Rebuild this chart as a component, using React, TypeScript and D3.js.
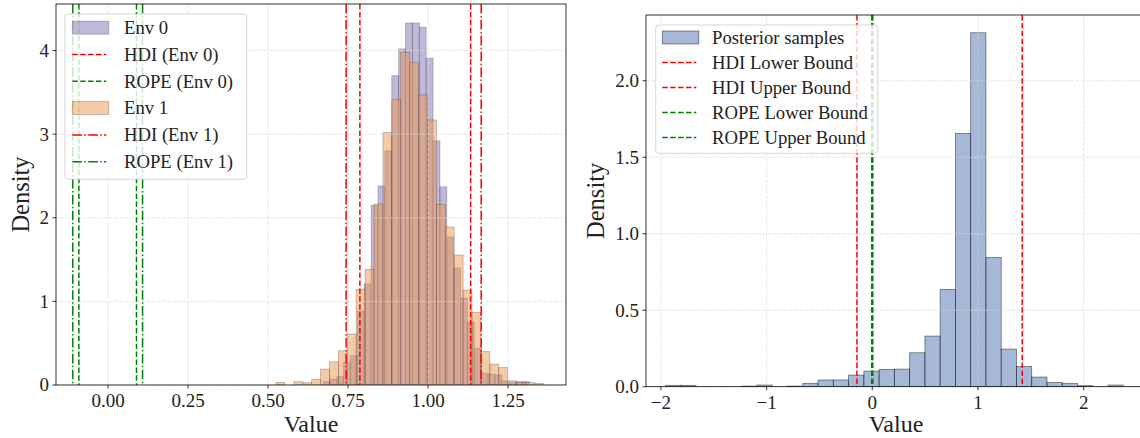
import React from 'react';
import * as d3 from 'd3';

// ---------- data: left panel (two environments) ----------
const env0Range = [0.6716, 1.3166];
const env0Density = [0.04, 0.07, 0.10, 0.27, 0.35, 0.885, 1.21, 2.15, 2.38, 2.80, 3.70, 4.02, 4.33, 4.33, 4.28, 3.91, 2.92, 2.37, 1.77, 1.40, 1.04, 0.75, 0.44, 0.14, 0.13, 0.12, 0.05, 0.03, 0.04, 0.04];
const env1Range = [0.525, 1.36];
const env1Density = [0.032, 0, 0.04, 0.028, 0.068, 0.19, 0.279, 0.41, 0.61, 1.145, 1.384, 2.165, 3.018, 3.417, 3.98, 3.86, 3.469, 3.17, 2.16, 1.89, 1.555, 1.136, 0.87, 0.40, 0.25, 0.21, 0.05, 0.03, 0.03, 0.02];
const env0HDI = [0.787, 1.133];
const env0ROPE = [-0.091, 0.089];
const env1HDI = [0.744, 1.166];
const env1ROPE = [-0.110, 0.108];
const leftXDomain = [-0.1625, 1.431];
const leftYDomain = [0, 4.557];
const leftXTicks = [0, 0.25, 0.5, 0.75, 1.0, 1.25];
const leftYTicks = [0, 1, 2, 3, 4];
const leftLegend = ['Env 0', 'HDI (Env 0)', 'ROPE (Env 0)', 'Env 1', 'HDI (Env 1)', 'ROPE (Env 1)'];

// ---------- data: right panel (posterior) ----------
const postRange = [-1.957, 2.375];
const postDensity = [0.009, 0.009, 0, 0, 0, 0.004, 0.011, 0, 0.004, 0.022, 0.044, 0.044, 0.076, 0.102, 0.113, 0.115, 0.222, 0.331, 0.636, 1.656, 2.314, 0.845, 0.246, 0.133, 0.063, 0.028, 0.022, 0.007, 0, 0.011];
const postHDI = [-0.145, 1.419];
const postROPE = [-0.005, 0.005];
const rightXDomain = [-2.141, 2.59];
const rightYDomain = [0, 2.43];
const rightXTicks = [-2, -1, 0, 1, 2];
const rightYTicks = [0, 0.5, 1.0, 1.5, 2.0];
const rightLegend = ['Posterior samples', 'HDI Lower Bound', 'HDI Upper Bound', 'ROPE Lower Bound', 'ROPE Upper Bound'];

const FONT = '"Liberation Serif", "Times New Roman", serif';
const PURPLE = '#8172b3';
const ORANGE = '#e9964f';
const BLUE = '#4c72b0';
const RED = '#ff0000';
const GREEN = '#008000';
const DASH = '5.5,2.4';
const DASHDOT = '9.6,2.4,1.5,2.4';

function edgesOf(range: number[], n: number) {
  return d3.range(n + 1).map((i) => range[0] + (i * (range[1] - range[0])) / n);
}

function Bars({ range, dens, x, y, fill, fillOpacity, strokeOpacity }: any) {
  const e = edgesOf(range, dens.length);
  return (
    <g>
      {dens.map((d: number, i: number) =>
        d > 0 ? (
          <rect
            key={i}
            x={x(e[i])}
            width={x(e[i + 1]) - x(e[i])}
            y={y(d)}
            height={y(0) - y(d)}
            fill={fill}
            fillOpacity={fillOpacity}
            stroke="#000"
            strokeOpacity={strokeOpacity}
            strokeWidth={0.8}
          />
        ) : null
      )}
    </g>
  );
}

function Frame({ x, y, xTicks, yTicks, xFmt, yFmt, id, children, xLabel, yLabelX }: any) {
  const [x0, x1] = x.range();
  const [y1, y0] = y.range();
  return (
    <g>
      <clipPath id={id}>
        <rect x={x0} y={y0} width={x1 - x0} height={y1 - y0} />
      </clipPath>
      <g clipPath={`url(#${id})`}>{children}</g>
      <rect x={x0} y={y0} width={x1 - x0} height={y1 - y0} fill="none" stroke="#000" strokeWidth={0.8} />
      {xTicks.map((t: number) => (
        <g key={'xt' + t}>
          <line x1={x(t)} x2={x(t)} y1={y1} y2={y1 + 3.5} stroke="#000" strokeWidth={0.8} />
          <text x={x(t)} y={y1 + 22} textAnchor="middle" fontFamily={FONT} fontSize={19} fill="#222">
            {xFmt(t)}
          </text>
        </g>
      ))}
      {yTicks.map((t: number) => (
        <g key={'yt' + t}>
          <line x1={x0 - 3.5} x2={x0} y1={y(t)} y2={y(t)} stroke="#000" strokeWidth={0.8} />
          <text x={x0 - 7} y={y(t) + 6.4} textAnchor="end" fontFamily={FONT} fontSize={19} fill="#222">
            {yFmt(t)}
          </text>
        </g>
      ))}
      <text x={(x0 + x1) / 2} y={432} textAnchor="middle" fontFamily={FONT} fontSize={24} fill="#222">
        {xLabel}
      </text>
      <text
        transform={`translate(${yLabelX},${(y0 + y1) / 2}) rotate(-90)`}
        textAnchor="middle"
        fontFamily={FONT}
        fontSize={24.5}
        fill="#222"
      >
        Density
      </text>
    </g>
  );
}

function Grid({ x, y, xTicks, yTicks }: any) {
  const [x0, x1] = x.range();
  const [y1, y0] = y.range();
  const st = { stroke: '#d8d8d8', strokeOpacity: 0.8, strokeWidth: 0.8, strokeDasharray: '3.7,1.6' };
  return (
    <g>
      {xTicks.map((t: number) => (
        <line key={'gx' + t} x1={x(t)} x2={x(t)} y1={y0} y2={y1} {...st} />
      ))}
      {yTicks.map((t: number) => (
        <line key={'gy' + t} x1={x0} x2={x1} y1={y(t)} y2={y(t)} {...st} />
      ))}
    </g>
  );
}

function VLine({ v, x, y, color, dash }: any) {
  const [y1, y0] = y.range();
  return <line x1={x(v)} x2={x(v)} y1={y0} y2={y1} stroke={color} strokeWidth={1.5} strokeDasharray={dash} />;
}

export default function App() {
  // left panel scales
  const lx = d3.scaleLinear().domain(leftXDomain).range([56, 566]);
  const ly = d3.scaleLinear().domain(leftYDomain).range([385, 4]);
  // right panel scales
  const rx = d3.scaleLinear().domain(rightXDomain).range([646, 1146]);
  const ry = d3.scaleLinear().domain(rightYDomain).range([386.7, 15]);

  const fmt2 = d3.format('.2f');
  const fmt0 = d3.format('d');
  const fmt1 = d3.format('.1f');
  const fmtMinus = (t: number) => (t < 0 ? '\u2212' + Math.abs(t) : String(t));

  const leftItems: any[] = [
    { kind: 'patch', fill: PURPLE, op: 0.5, sop: 0.25 },
    { kind: 'line', color: RED, dash: DASH },
    { kind: 'line', color: GREEN, dash: DASH },
    { kind: 'patch', fill: ORANGE, op: 0.5, sop: 0.25 },
    { kind: 'line', color: RED, dash: DASHDOT },
    { kind: 'line', color: GREEN, dash: DASHDOT },
  ];
  const rightItems: any[] = [
    { kind: 'patch', fill: BLUE, op: 0.5, sop: 0.5 },
    { kind: 'line', color: RED, dash: DASH },
    { kind: 'line', color: RED, dash: DASH },
    { kind: 'line', color: GREEN, dash: DASH },
    { kind: 'line', color: GREEN, dash: DASH },
  ];

  const legend = (labels: string[], items: any[], bx: number, by: number, bw: number, bh: number, cy0: number, step: number, sx: number, tx: number) => (
    <g>
      <rect x={bx} y={by} width={bw} height={bh} rx={3} fill="#fff" fillOpacity={0.8} stroke="#cccccc" strokeOpacity={0.8} strokeWidth={1} />
      {labels.map((lab, i) => {
        const cy = cy0 + i * step;
        const it = items[i];
        return (
          <g key={lab}>
            {it.kind === 'patch' ? (
              <rect x={sx} y={cy - 6.5} width={36.5} height={13} fill={it.fill} fillOpacity={it.op} stroke="#000" strokeOpacity={it.sop} strokeWidth={0.8} />
            ) : (
              <line x1={sx} x2={sx + 34} y1={cy} y2={cy} stroke={it.color} strokeWidth={1.5} strokeDasharray={it.dash} />
            )}
            <text x={tx} y={cy + 6.3} fontFamily={FONT} fontSize={18.7} fill="#222">
              {lab}
            </text>
          </g>
        );
      })}
    </g>
  );

  return (
    <svg width={1140} height={438} style={{ position: 'absolute', left: 0, top: 0, background: '#fff' }}>
      <rect x={0} y={0} width={1140} height={438} fill="#fff" />
      {/* Left panel */}
      <Frame x={lx} y={ly} xTicks={leftXTicks} yTicks={leftYTicks} xFmt={fmt2} yFmt={fmt0} id="clipL" xLabel="Value" yLabelX={29}>
        <Bars range={env0Range} dens={env0Density} x={lx} y={ly} fill={PURPLE} fillOpacity={0.5} strokeOpacity={0.25} />
        <Bars range={env1Range} dens={env1Density} x={lx} y={ly} fill={ORANGE} fillOpacity={0.5} strokeOpacity={0.25} />
        <Grid x={lx} y={ly} xTicks={leftXTicks} yTicks={leftYTicks} />
        {env0HDI.map((v) => <VLine key={'h0' + v} v={v} x={lx} y={ly} color={RED} dash={DASH} />)}
        {env0ROPE.map((v) => <VLine key={'r0' + v} v={v} x={lx} y={ly} color={GREEN} dash={DASH} />)}
        {env1HDI.map((v) => <VLine key={'h1' + v} v={v} x={lx} y={ly} color={RED} dash={DASHDOT} />)}
        {env1ROPE.map((v) => <VLine key={'r1' + v} v={v} x={lx} y={ly} color={GREEN} dash={DASHDOT} />)}
        {legend(leftLegend, leftItems, 65, 14, 181.7, 165.3, 27.7, 26.8, 72.3, 124)}
      </Frame>
      {/* Right panel */}
      <Frame x={rx} y={ry} xTicks={rightXTicks} yTicks={rightYTicks} xFmt={fmtMinus} yFmt={fmt1} id="clipR" xLabel="Value" yLabelX={604}>
        <Bars range={postRange} dens={postDensity} x={rx} y={ry} fill={BLUE} fillOpacity={0.5} strokeOpacity={0.5} />
        <Grid x={rx} y={ry} xTicks={rightXTicks} yTicks={rightYTicks} />
        {postHDI.map((v) => <VLine key={'ph' + v} v={v} x={rx} y={ry} color={RED} dash={DASH} />)}
        {postROPE.map((v) => <VLine key={'pr' + v} v={v} x={rx} y={ry} color={GREEN} dash={DASH} />)}
        {legend(rightLegend, rightItems, 655.7, 25, 222, 128.3, 37.5, 25, 662.3, 712)}
      </Frame>
    </svg>
  );
}
